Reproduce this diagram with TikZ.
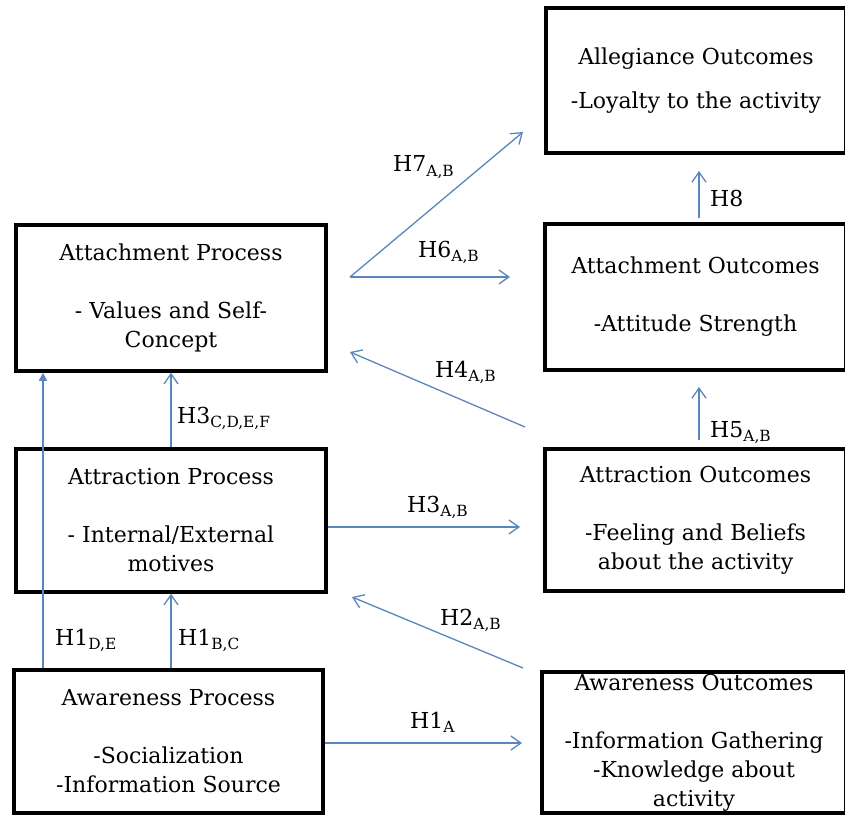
\documentclass[tikz,border=0pt]{standalone}
\usepackage{fontspec}
\setmainfont{DejaVu Serif}
\usetikzlibrary{arrows.meta,calc}
\definecolor{arrowblue}{HTML}{5A86BE}
\begin{document}
\begin{tikzpicture}[x=1pt,y=-1pt]
\tikzset{
  box/.style={draw=black, line width=3.5pt, inner sep=0pt, align=center,
    font=\fontsize{22}{29}\selectfont},
  arr/.style={draw=arrowblue, line width=1.3pt, -{Straight Barb[length=10pt,width=14pt]}},
  arrF/.style={draw=arrowblue, line width=1.3pt, -{Triangle[length=8pt,width=8pt]}},
  hlab/.style={anchor=base west, inner sep=0pt, font=\fontsize{22}{26}\selectfont}
}
\useasboundingbox (0,0) rectangle (845,818);
\clip (0,0) rectangle (845,818);
\fill[white] (0,0) rectangle (845,818);

% boxes
\node[box, minimum width=310pt, minimum height=146pt] (attP) at (171,298)
  {Attachment Process\\[29pt]- Values and Self-\\Concept};
\node[box, minimum width=310pt, minimum height=143pt] (atrP) at (171,520.5)
  {Attraction Process\\[29pt]- Internal/External\\motives};
\node[box, minimum width=309pt, minimum height=143pt] (awP) at (168.5,741.5)
  {Awareness Process\\[29pt]-Socialization\\-Information Source};
\node[box, minimum width=300pt, minimum height=145pt] (alleg) at (696,80.5)
  {Allegiance Outcomes\\[15pt]-Loyalty to the activity};
\node[box, minimum width=301pt, minimum height=146pt] (attO) at (695.5,297)
  {Attachment Outcomes\\[29pt]-Attitude Strength};
\node[box, minimum width=301pt, minimum height=142pt] (atrO) at (695.5,520)
  {Attraction Outcomes\\[29pt]-Feeling and Beliefs\\about the activity};
\node[box, minimum width=304pt, minimum height=141pt] (awO) at (694,742.5)
  {Awareness Outcomes\\[29pt]-Information Gathering\\-Knowledge about\\activity};

% free connector ends
\coordinate (h1aE) at (522,743);
\coordinate (h2s) at (523,668);
\coordinate (h2e) at (352,597);
\coordinate (h3aE) at (520,527);
\coordinate (h4s) at (525,427);
\coordinate (h4e) at (350,352);
\coordinate (h5s) at (699,440);
\coordinate (h5e) at (699,387);
\coordinate (h67s) at (350,277);
\coordinate (h6e) at (510,277);
\coordinate (h7e) at (523,132);
\coordinate (h8s) at (699,218);
\coordinate (h8e) at (699,171);
\coordinate (h1de) at (43,0);

% connectors
\draw[arr] (awP.east |- h1aE) -- (h1aE);
\draw[arr] (h2s) -- (h2e);
\draw[arr] (atrP.east |- h3aE) -- (h3aE);
\draw[arr] (h4s) -- (h4e);
\draw[arr] (h5s) -- (h5e);
\draw[arr] (h67s) -- (h6e);
\draw[arr] (h67s) -- (h7e);
\draw[arr] (h8s) -- (h8e);
\draw[arr] (atrP.north) -- (attP.south);
\draw[arr] (awP.north -| atrP.south) -- (atrP.south);
\draw[arrF] (awP.north -| h1de) -- (attP.south -| h1de);

% labels
\node[hlab] (l7) at (393,172) {H7\textsubscript{A,B}};
\node[hlab] (l6) at (418,257) {H6\textsubscript{A,B}};
\node[hlab] (l4) at (435,377) {H4\textsubscript{A,B}};
\node[hlab] (l3a) at (407,512) {H3\textsubscript{A,B}};
\node[hlab] (l2) at (440,625) {H2\textsubscript{A,B}};
\node[hlab] (l1a) at (410,728) {H1\textsubscript{A}};
\node[hlab] (l1de) at (55,645) {H1\textsubscript{D,E}};
\node[hlab] (l1bc) at (178,645) {H1\textsubscript{B,C}};
\node[hlab] (l3c) at (177,423) {H3\textsubscript{C,D,E,F}};
\node[hlab] (l5) at (710,437) {H5\textsubscript{A,B}};
\node[hlab] (l8) at (710,207) {H8};
\end{tikzpicture}
\end{document}
